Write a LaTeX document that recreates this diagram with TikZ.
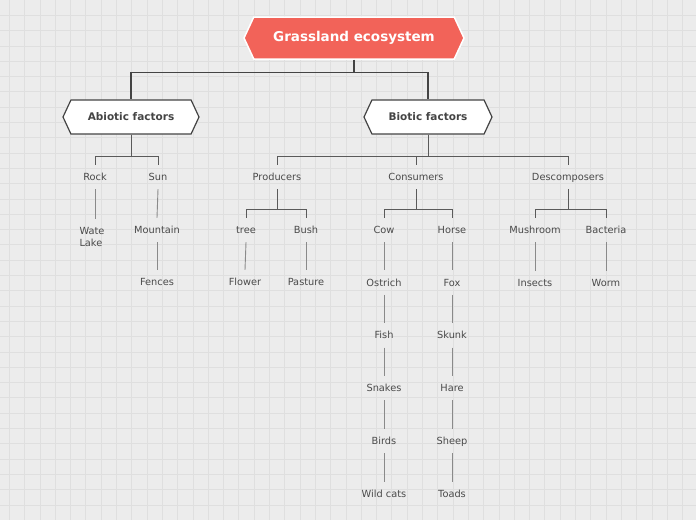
\documentclass[tikz,border=0pt]{standalone}
\usepackage{fontspec}
\setmainfont{DejaVu Sans}
\usetikzlibrary{shapes.symbols}
\definecolor{bgcol}{HTML}{ECECEC}
\definecolor{gridcol}{HTML}{DFDFDF}
\definecolor{rootred}{HTML}{F26359}
\definecolor{inkgray}{HTML}{444444}
\definecolor{leafgray}{HTML}{4A4A4A}
\definecolor{linkgray}{HTML}{5A5A5A}
\definecolor{chaingray}{HTML}{8A8A8A}
\begin{document}
\begin{tikzpicture}[x=1pt,y=-1pt,
  hexa/.style={shape=signal,signal to=west and east,signal pointer angle=130,draw=inkgray,fill=white,line width=1.2pt,text=inkgray,font=\fontsize{10.5}{12}\selectfont\bfseries,minimum height=34,inner sep=0pt},
  rootbox/.style={hexa,fill=rootred,draw=white,line width=1.5pt,text=white,font=\fontsize{13.5}{16}\selectfont\bfseries,minimum width=220,minimum height=42},
  leaf/.style={font=\fontsize{9.8}{12}\selectfont,text=leafgray,inner sep=0pt,text height=9,text depth=2,minimum height=24},
  mainlink/.style={draw=inkgray,line width=1.3pt},
  sublink/.style={draw=linkgray,line width=1pt},
  chainlink/.style={draw=chaingray,line width=0.9pt}]
\useasboundingbox (0,0) rectangle (696,520);
% background grid
\fill[bgcol] (0,0) rectangle (696,520);
\foreach \x in {0,...,44}
\draw[gridcol,line width=0.8pt] (9.3+15.3*\x,0) -- (9.3+15.3*\x,520);
\foreach \y in {1,...,33}
\draw[gridcol,line width=0.8pt] (0,15.3*\y) -- (696,15.3*\y);
% top levels
\node[rootbox] (root) at (354,38) {Grassland ecosystem};
\node[hexa,minimum width=136] (abio) at (131,117) {Abiotic factors};
\node[hexa,minimum width=128] (bio) at (428,117) {Biotic factors};
\draw[mainlink] (root.south) -- ++(0,13) -| (abio.north);
\draw[mainlink] (root.south) -- ++(0,13) -| (bio.north);
% abiotic
\node[leaf] (rock) at (95,177) {Rock};
\node[leaf] (sun) at (158,177) {Sun};
\node[font=\fontsize{9.8}{12}\selectfont,text=leafgray,inner sep=0pt,align=left,minimum height=36] (lake) at (92,237) {Wate\\Lake};
\node[leaf] (mountain) at (157,230) {Mountain};
\node[leaf] (fences) at (157,282) {Fences};
\foreach \c in {rock,sun}
\draw[sublink] (abio.south) -- ++(0,22) -| (\c.north);
\draw[chainlink] (rock.south) -- (rock.south |- lake.north);
\draw[chainlink] (sun.south) -- (mountain.north);
\draw[chainlink] (mountain.south) -- (fences.north);
% biotic
\node[leaf] (prod) at (277,177) {Producers};
\node[leaf] (cons) at (416,177) {Consumers};
\node[leaf] (decomp) at (568,177) {Descomposers};
\foreach \c in {prod,cons,decomp}
\draw[sublink] (bio.south) -- ++(0,22) -| (\c.north);
% producers
\node[leaf] (tree) at (246,230) {tree};
\node[leaf] (bush) at (306,230) {Bush};
\node[leaf] (flower) at (245,282) {Flower};
\node[leaf] (pasture) at (306,282) {Pasture};
\foreach \c in {tree,bush}
\draw[sublink] (prod.south) -- ++(0,20) -| (\c.north);
\draw[chainlink] (tree.south) -- (flower.north);
\draw[chainlink] (bush.south) -- (pasture.north);
% consumers
\foreach \n [count=\i] in {Cow,Ostrich,Fish,Snakes,Birds,Wild cats}
\node[leaf] (cowline\i) at (384,177+52.8*\i) {\n};
\foreach \n [count=\i] in {Horse,Fox,Skunk,Hare,Sheep,Toads}
\node[leaf] (horseline\i) at (452,177+52.8*\i) {\n};
\foreach \c in {cowline1,horseline1}
\draw[sublink] (cons.south) -- ++(0,20) -| (\c.north);
\foreach \a [count=\b from 2] in {1,...,5}{
\draw[chainlink] (cowline\a.south) -- (cowline\b.north);
\draw[chainlink] (horseline\a.south) -- (horseline\b.north);
}
% decomposers
\node[leaf] (mush) at (535,230) {Mushroom};
\node[leaf] (bact) at (606,230) {Bacteria};
\node[leaf] (insects) at (535,283) {Insects};
\node[leaf] (worm) at (606,283) {Worm};
\foreach \c in {mush,bact}
\draw[sublink] (decomp.south) -- ++(0,20) -| (\c.north);
\draw[chainlink] (mush.south) -- (insects.north);
\draw[chainlink] (bact.south) -- (worm.north);
\end{tikzpicture}
\end{document}
